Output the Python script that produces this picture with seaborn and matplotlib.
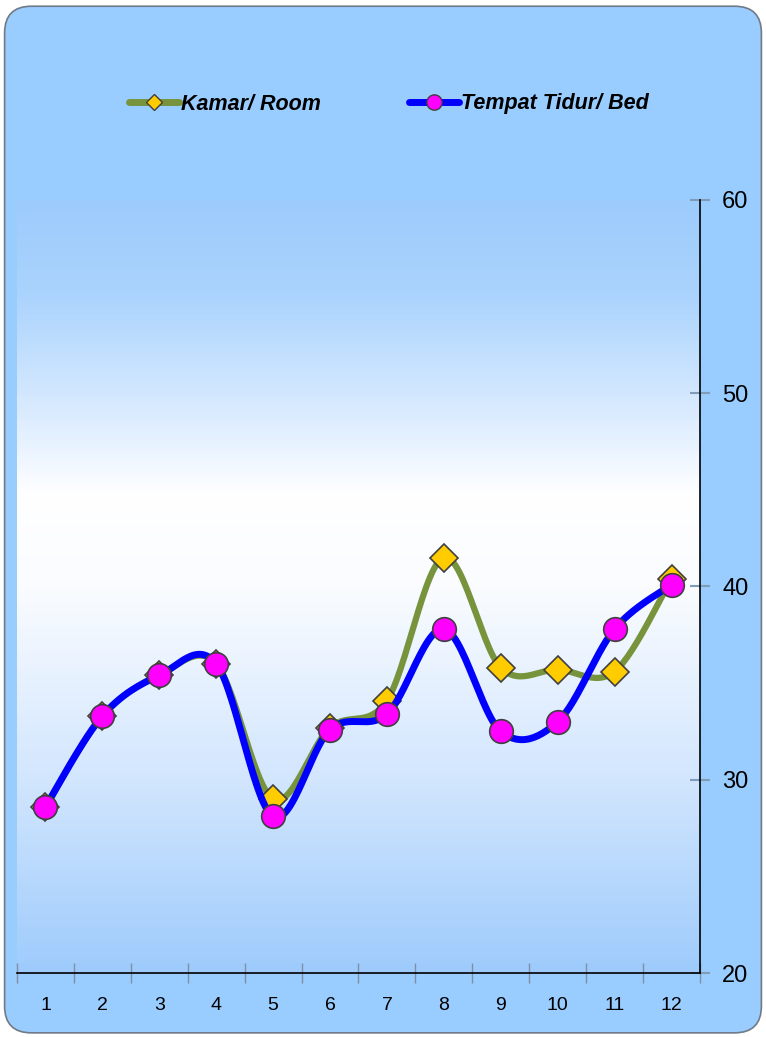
import numpy as np
import pandas as pd
import matplotlib
matplotlib.use("Agg")
import matplotlib.pyplot as plt
import seaborn as sns
from matplotlib.colors import LinearSegmentedColormap
from matplotlib.lines import Line2D
from matplotlib.patches import FancyBboxPatch

sns.set_theme(style="white")
plt.rcParams['font.family'] = ['Liberation Sans', 'DejaVu Sans']
plt.rcParams['text.color'] = 'black'
plt.rcParams['xtick.color'] = 'black'
plt.rcParams['ytick.color'] = 'black'

# data
months = list(range(1, 13))
kamar = [28.6, 33.3, 35.4, 36.0, 29.0, 32.7, 34.1, 41.5, 35.8, 35.7, 35.6, 40.4]
bed = [28.6, 33.3, 35.4, 36.0, 28.1, 32.6, 33.4, 37.8, 32.5, 33.0, 37.8, 40.1]
yticks = [20, 30, 40, 50, 60]

label_room = "Kamar/ Room"
label_bed = "Tempat Tidur/ Bed"


def smooth(x, y, n=30):
    # excel-like smoothed line (catmull-rom bezier through the points)
    x = np.asarray(x, float)
    y = np.asarray(y, float)
    px = np.concatenate([[x[0]], x, [x[-1]]])
    py = np.concatenate([[y[0]], y, [y[-1]]])
    xs, ys = [], []
    t = np.linspace(0, 1, n)
    for i in range(1, len(px) - 2):
        p0 = np.array([px[i], py[i]])
        p3 = np.array([px[i + 1], py[i + 1]])
        p1 = p0 + (p3 - np.array([px[i - 1], py[i - 1]])) / 6
        p2 = p3 - (np.array([px[i + 2], py[i + 2]]) - p0) / 6
        b = ((1 - t) ** 3)[:, None] * p0 + (3 * (1 - t) ** 2 * t)[:, None] * p1 \
            + (3 * (1 - t) * t ** 2)[:, None] * p2 + (t ** 3)[:, None] * p3
        xs.extend(b[:, 0])
        ys.extend(b[:, 1])
    return np.array(xs), np.array(ys)


fig = plt.figure(figsize=(7.66, 10.37), dpi=100)
fig.patch.set_facecolor("white")
frame = FancyBboxPatch((0.006, 0.004), 0.988, 0.99, boxstyle="round,pad=0,rounding_size=0.035",
                       transform=fig.transFigure, facecolor="#99CCFF", edgecolor="#707a88",
                       linewidth=1.2, mutation_aspect=766 / 1037, zorder=-5)
fig.patches.append(frame)

ax = fig.add_axes([17 / 766, 1 - 973 / 1037, (700 - 17) / 766, (973 - 200) / 1037])
ax.set_facecolor("none")
ax.set_zorder(2)

grad = LinearSegmentedColormap.from_list(
    "bg", [(0, "#9DCBFC"), (0.12, "#AAD3FD"), (0.28, "#DCECFF"), (0.38, "#FFFFFF"),
           (0.5, "#FAFCFF"), (0.75, "#D2E6FE"), (1, "#9ECBFC")])
ax.imshow(np.linspace(0, 1, 256)[:, None], aspect="auto", cmap=grad,
          extent=[0.5, 12.5, 20, 60], origin="upper", zorder=0)

sx, sy = smooth(months, kamar)
sns.lineplot(x=sx, y=sy, sort=False, color="#77933C", linewidth=4.5, ax=ax, zorder=2)
ax.plot(months, kamar, linestyle="none", marker="D", markersize=14,
        markerfacecolor="#FFCC00", markeredgecolor="#404040", markeredgewidth=1.2, zorder=3)

sx, sy = smooth(months, bed)
sns.lineplot(x=sx, y=sy, sort=False, color="#0000FF", linewidth=5, ax=ax, zorder=4)
ax.plot(months, bed, linestyle="none", marker="o", markersize=17,
        markerfacecolor="#FF00FF", markeredgecolor="#404040", markeredgewidth=1.2, zorder=5)

ax.set_xlim(0.5, 12.5)
ax.set_ylim(20, 60)
ax.set_xticks(months)
ax.set_xticklabels([str(m) for m in months], fontsize=14)
ax.set_xticks(np.arange(0.5, 13, 1), minor=True)
ax.tick_params(axis="x", which="major", length=0, pad=17)
ax.tick_params(axis="x", which="minor", length=14, direction="inout", color="#7F8FA6", width=1,
               bottom=True)

ax.yaxis.tick_right()
ax.set_yticks(yticks)
ax.set_yticklabels([str(v) for v in yticks], fontsize=17)
ax.tick_params(axis="y", which="major", length=14, direction="inout", color="#7F9DB9",
               width=1.5, pad=9, right=True, left=False)

for side in ["top", "left"]:
    ax.spines[side].set_visible(False)
for side in ["bottom", "right"]:
    ax.spines[side].set_visible(True)
    ax.spines[side].set_color("black")
    ax.spines[side].set_linewidth(1.2)

handles = [
    Line2D([], [], color="#77933C", linewidth=5, marker="D", markersize=8,
           markerfacecolor="#FFCC00", markeredgecolor="#404040", solid_capstyle="round"),
    Line2D([], [], color="#0000FF", linewidth=5, marker="o", markersize=11,
           markerfacecolor="#FF00FF", markeredgecolor="#404040", solid_capstyle="round"),
]
fig.legend(handles, [label_room, label_bed], loc="center", bbox_to_anchor=(0.508, 1 - 104 / 1037),
           ncol=2, frameon=False, handlelength=2.3, handletextpad=0.12, columnspacing=4.1,
           prop={"weight": "bold", "style": "italic", "size": 15.5})

fig.savefig("out.png", dpi=100)
